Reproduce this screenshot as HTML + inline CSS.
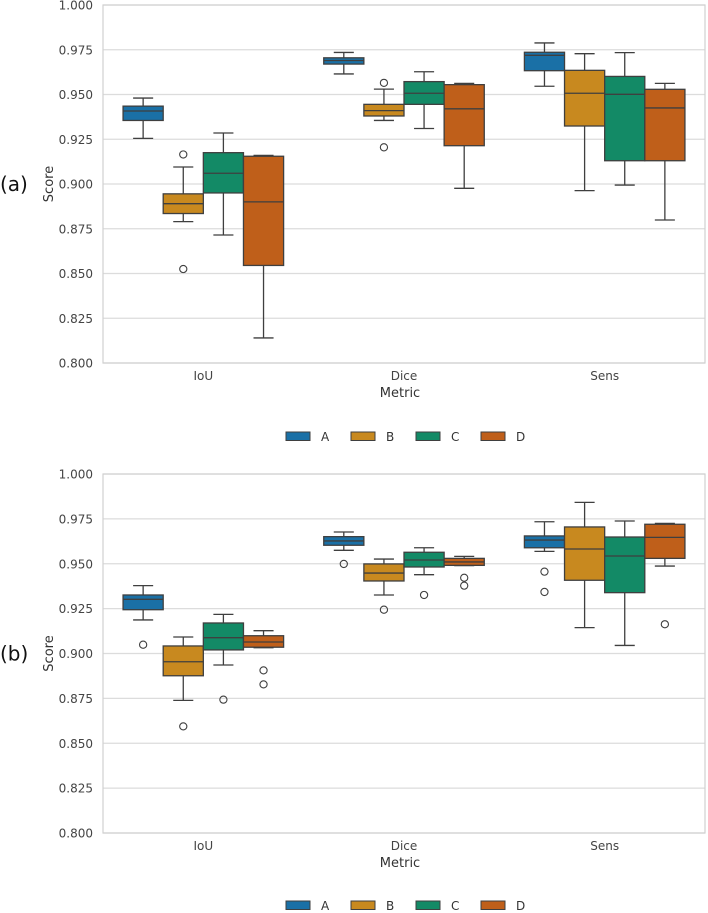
<!DOCTYPE html>
<html><head><meta charset="utf-8">
<style>
html,body{margin:0;padding:0;background:#fff;}
svg{display:block;font-family:"DejaVu Sans","Liberation Sans",sans-serif;}
</style></head>
<body>
<svg id="chart" width="708" height="913" viewBox="0 0 708 913" xmlns="http://www.w3.org/2000/svg"></svg>
<script>
const categories = ["IoU","Dice","Sens"];
const groups = ["A","B","C","D"];
const groupColors = ["#1a70a6","#c8891f","#138a66","#bf5f1a"];
const yTicks = [0.800,0.825,0.850,0.875,0.900,0.925,0.950,0.975,1.000];
const yTickLabels = ["0.800","0.825","0.850","0.875","0.900","0.925","0.950","0.975","1.000"];
// each stat: [low whisker, q1, median, q3, high whisker]
const statsA = [
  [[0.9255,0.9355,0.9408,0.9435,0.948],[0.8790,0.8835,0.889,0.8945,0.9095],[0.8715,0.895,0.906,0.9175,0.9285],[0.814,0.8545,0.890,0.9155,0.916]],
  [[0.9615,0.967,0.969,0.9705,0.9735],[0.9355,0.938,0.941,0.9445,0.953],[0.931,0.9445,0.9507,0.9572,0.9627],[0.8976,0.9214,0.942,0.9555,0.9562]],
  [[0.9546,0.9633,0.9719,0.9736,0.9788],[0.8963,0.9324,0.9507,0.9635,0.9728],[0.8994,0.913,0.9501,0.9601,0.9734],[0.8799,0.913,0.9425,0.9529,0.9562]]
];
const outliersA = [
  [[],[0.9165,0.8525],[],[]],
  [[],[0.9565,0.9205],[],[]],
  [[],[],[],[]]
];
const statsB = [
  [[0.9187,0.9244,0.9302,0.9326,0.9378],[0.8739,0.8876,0.8954,0.9042,0.9092],[0.8936,0.902,0.9088,0.917,0.9218],[0.9032,0.9035,0.9064,0.9099,0.9127]],
  [[0.9575,0.9603,0.9627,0.9651,0.9677],[0.9326,0.9404,0.9448,0.9499,0.9526],[0.9439,0.9482,0.9521,0.9564,0.9589],[0.949,0.9491,0.951,0.953,0.9541]],
  [[0.9569,0.9589,0.9632,0.9655,0.9734],[0.9144,0.9408,0.9582,0.9705,0.9842],[0.9045,0.9339,0.9543,0.9649,0.9738],[0.9487,0.953,0.9647,0.972,0.9725]]
];
const outliersB = [
  [[0.9049],[0.8594],[0.8743],[0.8906,0.8828]],
  [[0.9499],[0.9244],[0.9326],[0.9422,0.9378]],
  [[0.9456,0.9343],[],[],[0.9163]]
];

const NS="http://www.w3.org/2000/svg";
const svg=document.getElementById('chart');
function mk(tag,attrs,parent){const e=document.createElementNS(NS,tag);for(const k in attrs)e.setAttribute(k,attrs[k]);(parent||svg).appendChild(e);return e;}

function panel(top,bottom,stats,outliers,label,legendY,pid){
  const left=103,right=705;
  const g=mk('g',{});
  
  
  const y=v=>bottom-(v-0.8)/0.2*(bottom-top);
  const catW=(right-left)/3;
  const xc=i=>left+catW*(i+0.5);
  yTicks.forEach((t,i)=>{
    const l=mk('line',{x1:left,x2:right,y1:y(t),y2:y(t),stroke:'#dcdcdc','stroke-width':1.2},g);
    
    
    const tx=mk('text',{x:left-10,y:y(t)+4.5,'text-anchor':'end','font-size':12,fill:'#444'},g);
    tx.textContent=yTickLabels[i];
    
    
  });
  const fr=mk('rect',{x:left,y:top,width:right-left,height:bottom-top,fill:'none',stroke:'#d0d0d0','stroke-width':1.2},g);
  
  
  categories.forEach((c,ci)=>{
    const t=mk('text',{x:xc(ci),y:bottom+17,'text-anchor':'middle','font-size':12,fill:'#444'},g);
    t.textContent=c;
    
    
    const bw=catW*0.8/4;
    groups.forEach((gr,gi)=>{
      const s=stats[ci][gi];
      const x0=xc(ci)-catW*0.4+gi*bw;
      const cx=x0+bw/2;
      const bg=mk('g',{},g);
      
      
      const ec='#3f3f3f';
      mk('line',{x1:cx,x2:cx,y1:y(s[0]),y2:y(s[1]),stroke:ec,'stroke-width':1.3},bg);
      mk('line',{x1:cx,x2:cx,y1:y(s[3]),y2:y(s[4]),stroke:ec,'stroke-width':1.3},bg);
      mk('line',{x1:cx-bw/4,x2:cx+bw/4,y1:y(s[0]),y2:y(s[0]),stroke:ec,'stroke-width':1.3},bg);
      mk('line',{x1:cx-bw/4,x2:cx+bw/4,y1:y(s[4]),y2:y(s[4]),stroke:ec,'stroke-width':1.3},bg);
      mk('rect',{x:x0,y:y(s[3]),width:bw,height:Math.max(0.5,y(s[1])-y(s[3])),fill:groupColors[gi],stroke:ec,'stroke-width':1.3},bg);
      mk('line',{x1:x0,x2:x0+bw,y1:y(s[2]),y2:y(s[2]),stroke:ec,'stroke-width':1.3},bg);
      outliers[ci][gi].forEach(o=>{
        const p=mk('circle',{cx:cx,cy:y(o),r:3.6,fill:'none',stroke:ec,'stroke-width':1.1},bg);
        
        
      });
    });
  });
  const xt=mk('text',{x:(left+right)/2-4,y:bottom+34,'text-anchor':'middle','font-size':13,fill:'#333'},g);
  xt.textContent='Metric';
  
  
  const yt=mk('text',{x:0,y:0,'text-anchor':'middle','font-size':13,fill:'#333',transform:`translate(53,${(top+bottom)/2}) rotate(-90)`},g);
  yt.textContent='Score';
  
  
  const pl=mk('text',{x:0,y:(top+bottom)/2+7,'font-size':20,fill:'#111'},g);
  pl.textContent=label;
  
  
  groups.forEach((gr,gi)=>{
    const lx=286+gi*65;
    const le=mk('g',{},g);
    
    
    mk('rect',{x:lx,y:legendY-4,width:24,height:8.5,fill:groupColors[gi],stroke:'#3f3f3f','stroke-width':1},le);
    const t=mk('text',{x:lx+35,y:legendY+5,'font-size':12,fill:'#333'},le);
    t.textContent=gr;
  });
}
panel(5,363,statsA,outliersA,'(a)',436,'a');
panel(474,833,statsB,outliersB,'(b)',905,'b');
</script>
</body></html>
